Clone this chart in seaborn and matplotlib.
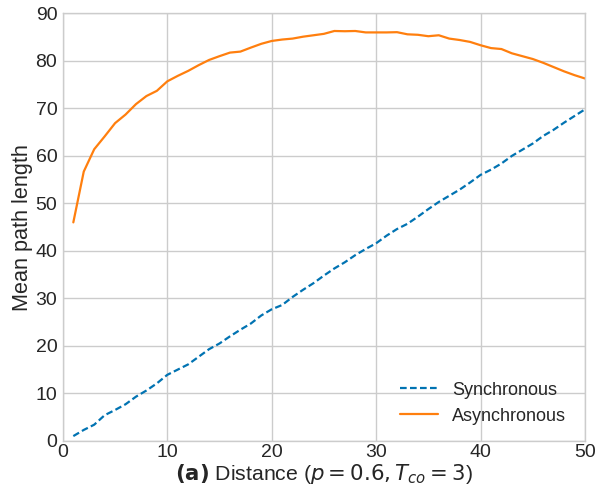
import numpy as np
import pandas as pd
import matplotlib
matplotlib.use("Agg")
import matplotlib.pyplot as plt
import seaborn as sns

distance = list(range(1, 51))
synchronous = [1.0, 2.3, 3.4, 5.4, 6.5, 7.7, 9.3, 10.6, 12.1, 13.9,
               15.0, 16.1, 17.7, 19.3, 20.5, 22.0, 23.4, 24.7, 26.4, 27.7,
               28.6, 30.3, 31.8, 33.2, 34.8, 36.3, 37.6, 39.1, 40.4, 41.6,
               43.2, 44.6, 45.7, 47.2, 48.8, 50.3, 51.6, 52.9, 54.4, 56.0,
               57.1, 58.4, 60.0, 61.3, 62.6, 64.2, 65.5, 67.0, 68.4, 69.8]
asynchronous = [46.0, 56.7, 61.4, 64.1, 66.9, 68.7, 70.9, 72.6, 73.7, 75.7,
                76.85, 77.9, 79.1, 80.2, 81.0, 81.75, 81.96, 82.8, 83.6, 84.2,
                84.5, 84.7, 85.1, 85.4, 85.7, 86.3, 86.25, 86.3, 86.0, 86.0,
                86.0, 86.05, 85.6, 85.5, 85.2, 85.4, 84.7, 84.4, 84.0, 83.3,
                82.7, 82.5, 81.6, 81.0, 80.4, 79.6, 78.7, 77.8, 77.0, 76.3]
series_names = ["Synchronous", "Asynchronous"]

df = pd.DataFrame({
    "Distance": distance * 2,
    "Mean path length": synchronous + asynchronous,
    "Mode": [series_names[0]] * len(distance) + [series_names[1]] * len(distance),
})

sns.set_theme(style="whitegrid")
plt.rcParams["font.family"] = ["Liberation Sans", "DejaVu Sans"]
plt.rcParams["mathtext.fontset"] = "dejavusans"
plt.rcParams["axes.edgecolor"] = "#cccccc"

fig = plt.figure(figsize=(5.96, 4.97), dpi=100)
ax = fig.add_axes([0.1055, 0.113, 0.876, 0.86])

sns.lineplot(data=df, x="Distance", y="Mean path length", hue="Mode", style="Mode",
             palette={"Synchronous": "#0173b2", "Asynchronous": "#ff7f0e"},
             dashes={"Synchronous": (3, 1.5), "Asynchronous": ""},
             linewidth=1.6, ax=ax)

ax.set_xlim(0, 50)
ax.set_ylim(0, 90)
ax.set_xticks(range(0, 51, 10))
ax.set_yticks(range(0, 91, 10))
ax.tick_params(axis="both", labelsize=14, length=0, colors="#262626")
ax.tick_params(axis="x", pad=2)
ax.tick_params(axis="y", pad=4)
ax.set_ylabel("Mean path length", fontsize=15.6, color="#262626")
ax.yaxis.set_label_coords(-0.058, 0.5)
ax.set_xlabel(r"$\mathbf{(a)}$ Distance ($p = 0.6, T_{co} = 3$)", fontsize=15.3,
              color="#262626", labelpad=1)
for s in ax.spines.values():
    s.set_color("#cccccc")
    s.set_linewidth(1.0)

leg = ax.legend(loc="lower right", fontsize=13, frameon=False, title=None,
                handlelength=2.1, bbox_to_anchor=(0.995, 0.0))

fig.savefig("out.png", dpi=100)
